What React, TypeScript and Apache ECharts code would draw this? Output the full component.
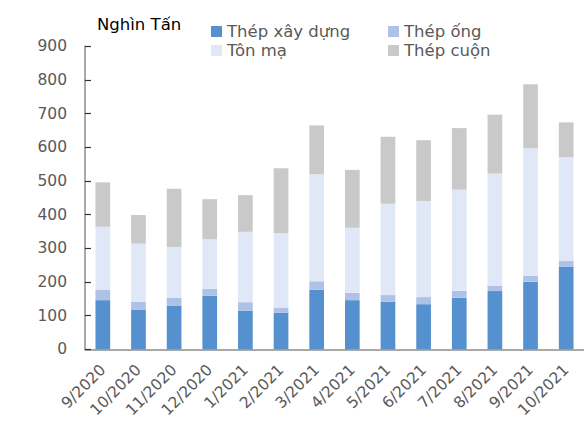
import React, { useEffect, useRef } from "react";
import * as echarts from "echarts";

const categories = ["9/2020", "10/2020", "11/2020", "12/2020", "1/2021", "2/2021", "3/2021", "4/2021", "5/2021", "6/2021", "7/2021", "8/2021", "9/2021", "10/2021"];
const thepXayDung = [146, 117, 130, 159, 115, 109, 177, 146, 141, 134, 153, 173, 201, 245];
const thepOng = [30, 24, 23, 21, 25, 15, 25, 22, 20, 21, 21, 16, 17, 17];
const tonMa = [188, 173, 151, 147, 209, 221, 318, 193, 271, 285, 300, 333, 379, 309];
const thepCuon = [132, 85, 173, 119, 109, 193, 145, 172, 199, 181, 183, 175, 190, 103];
const seriesNames = ["Thép xây dựng", "Thép ống", "Tôn mạ", "Thép cuộn"];
const colors = ["#5591CF", "#ADC2E6", "#E0E8F7", "#C9C9C9"];
const unitLabel = "Nghìn Tấn";

const FONT = "DejaVu Sans";

export default function App() {
  const ref = useRef<HTMLDivElement>(null);
  useEffect(() => {
    if (!ref.current) return;
    const chart = echarts.init(ref.current, null, { renderer: "svg" });
    const values = [thepXayDung, thepOng, tonMa, thepCuon];
    const legendPos = [
      { left: 211, top: 23 },
      { left: 388, top: 23 },
      { left: 211, top: 42 },
      { left: 388, top: 42 },
    ];
    chart.setOption({
      animation: false,
      title: {
        text: unitLabel,
        left: 97,
        top: 16,
        padding: 0,
        textStyle: { fontFamily: FONT, fontSize: 16.5, fontWeight: "normal", color: "#000" },
      },
      legend: seriesNames.map((n, i) => ({
        data: [n],
        left: legendPos[i].left,
        top: legendPos[i].top,
        padding: 0,
        itemWidth: 11,
        itemHeight: 11,
        icon: "rect",
        textStyle: { fontFamily: FONT, fontSize: 16.5, color: "#595959" },
      })),
      grid: { left: 85, right: 0, top: 46.3, bottom: 71.7 },
      xAxis: {
        type: "category",
        data: categories,
        axisLine: { lineStyle: { color: "#8c8c8c", width: 1.5 } },
        axisTick: { inside: true, length: 6, lineStyle: { color: "#333", width: 1.2 } },
        axisLabel: { rotate: 45, margin: 18, fontFamily: FONT, fontSize: 15.5, color: "#595959", interval: 0 },
      },
      yAxis: {
        type: "value",
        min: 0,
        max: 900,
        interval: 100,
        splitLine: { show: false },
        axisLine: { show: true, lineStyle: { color: "#8c8c8c", width: 1.5 } },
        axisTick: { show: true, inside: true, length: 6, lineStyle: { color: "#333", width: 1.2 } },
        axisLabel: { margin: 18, fontFamily: FONT, fontSize: 15.5, color: "#595959" },
      },
      series: seriesNames.map((n, i) => ({
        name: n,
        type: "bar",
        stack: "total",
        barWidth: 14.7,
        data: values[i],
        itemStyle: { color: colors[i] },
      })),
    });
    return () => chart.dispose();
  }, []);
  return <div ref={ref} style={{ position: "absolute", left: 0, top: 0, width: 584, height: 421 }} />;
}
